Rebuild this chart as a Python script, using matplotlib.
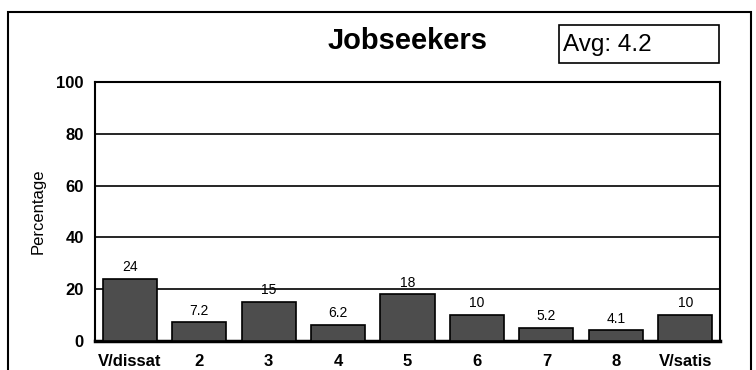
import matplotlib
matplotlib.use("Agg")
import matplotlib.pyplot as plt
from matplotlib.patches import Rectangle

categories = ["V/dissat", "2", "3", "4", "5", "6", "7", "8", "V/satis"]
values = [24, 7.2, 15, 6.2, 18, 10, 5.2, 4.1, 10]
value_labels = ["24", "7.2", "15", "6.2", "18", "10", "5.2", "4.1", "10"]
yticks = [0, 20, 40, 60, 80, 100]
title = "Jobseekers"
avg_text = "Avg: 4.2"

plt.rcParams["font.family"] = ["Liberation Sans", "DejaVu Sans"]

W, H = 756, 370
fig = plt.figure(figsize=(W / 100, H / 100), dpi=100)

# outer frame around the whole chart (bottom edge runs off the canvas)
fig.patches.append(Rectangle((8 / W, -0.1), (751 - 8) / W, 1.1 - 12 / H,
                             transform=fig.transFigure, fill=False,
                             edgecolor="black", linewidth=1.5))

ax = fig.add_axes([95 / W, 1 - 341 / H, (720 - 95) / W, (341 - 82) / H])
x = list(range(len(categories)))
ax.bar(x, values, width=0.78, color="#4d4d4d", edgecolor="black", linewidth=1.2, zorder=3)
for xi, v, lab in zip(x, values, value_labels):
    ax.text(xi, v + 1.8, lab, ha="center", va="bottom", fontsize=10, zorder=4)

ax.set_xlim(-0.5, len(categories) - 0.5)
ax.set_ylim(0, 100)
ax.set_yticks(yticks)
ax.set_yticklabels([str(t) for t in yticks], fontsize=12, fontweight="bold")
ax.set_xticks(x)
ax.set_xticklabels(categories, fontsize=12, fontweight="bold")
ax.tick_params(axis="y", length=0, pad=8)
ax.tick_params(axis="x", length=0, pad=9)
ax.yaxis.grid(True, color="black", linewidth=1.2, zorder=0)
ax.set_axisbelow(True)
for side in ["top", "right", "left"]:
    ax.spines[side].set_linewidth(1.5)
ax.spines["bottom"].set_linewidth(2.5)
ax.set_ylabel("Percentage", fontsize=12, labelpad=8)

fig.text(408 / W, 1 - 41 / H, title, ha="center", va="center", fontsize=21, fontweight="bold")
fig.patches.append(Rectangle((559 / W, 1 - 63 / H), (719 - 559) / W, (63 - 25) / H,
                             transform=fig.transFigure, fill=False,
                             edgecolor="black", linewidth=1.2))
fig.text(563 / W, 1 - 45 / H, avg_text, ha="left", va="center", fontsize=17.5)

fig.savefig("out.png", dpi=100)
